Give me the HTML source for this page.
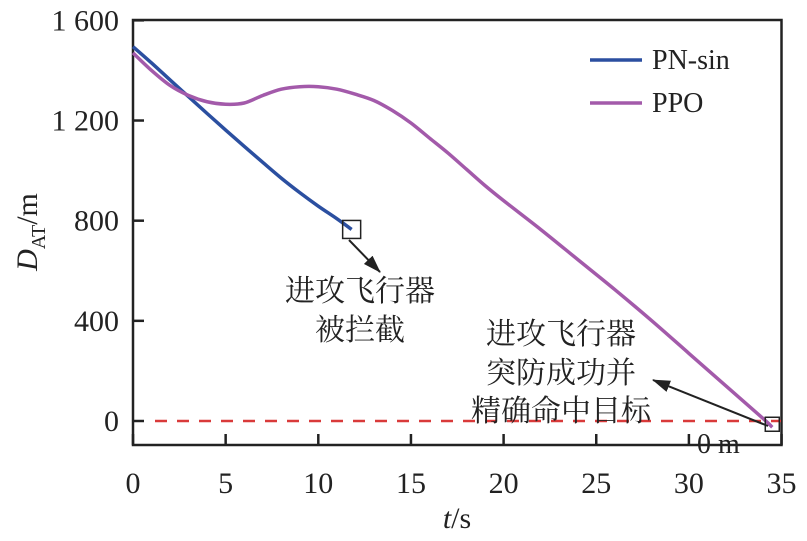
<!DOCTYPE html>
<html><head><meta charset="utf-8"><style>
body{margin:0;background:#fff}
svg text{font-family:"Liberation Serif","Noto Serif CJK SC",serif;fill:#222}
</style></head><body>
<svg width="807" height="536" id="c">
<rect x="133" y="20" width="648.5" height="425" fill="none" stroke="#222" stroke-width="2.5"/>
<g id="ticks"></g>
<line x1="155" y1="421" x2="781" y2="421" stroke="#d93a3a" stroke-width="2.5" stroke-dasharray="12,10"/>
<path id="pn" fill="none" stroke="#2b4fa0" stroke-width="3.5"/>
<path id="ppo" fill="none" stroke="#a35aaa" stroke-width="3.5"/>
<rect id="sq1" width="18" height="18" fill="none" stroke="#222" stroke-width="1.5"/>
<rect id="sq2" width="14" height="14" fill="none" stroke="#222" stroke-width="1.5"/>
<defs><marker id="ah" markerWidth="18" markerHeight="12" refX="17" refY="6" orient="auto" markerUnits="userSpaceOnUse" viewBox="0 0 18 12"><path d="M0,0L18,6L0,12z" fill="#222"/></marker></defs>
<line x1="349" y1="240" x2="380" y2="272" stroke="#222" stroke-width="2" marker-end="url(#ah)"/>
<line x1="768" y1="426" x2="653" y2="380" stroke="#222" stroke-width="2" marker-end="url(#ah)"/>
<text x="360" y="301" font-size="30" text-anchor="middle">进攻飞行器</text>
<text x="360" y="340" font-size="30" text-anchor="middle">被拦截</text>
<text x="561" y="344" font-size="30" text-anchor="middle">进攻飞行器</text>
<text x="561" y="383" font-size="30" text-anchor="middle">突防成功并</text>
<text x="561" y="421" font-size="30" text-anchor="middle">精确命中目标</text>
<text x="697" y="453" font-size="28">0 m</text>
<line x1="590" y1="60" x2="642" y2="60" stroke="#2b4fa0" stroke-width="3.5"/>
<text x="652" y="69" font-size="28">PN-sin</text>
<line x1="590" y1="103" x2="642" y2="103" stroke="#a35aaa" stroke-width="3.5"/>
<text x="652" y="112" font-size="28">PPO</text>
<text transform="translate(37,232) rotate(-90)" font-size="30" text-anchor="middle"><tspan font-style="italic">D</tspan><tspan font-size="20" dy="8">AT</tspan><tspan dy="-8">/m</tspan></text>
<text x="457" y="528" font-size="30" text-anchor="middle"><tspan font-style="italic">t</tspan>/s</text>
</svg>
<script>
const xTicks=[0,5,10,15,20,25,30,35];
const yTicks=[0,400,800,1200,1600];
const yTickLabels=["0","400","800","1 200","1 600"];
const pnT=[0,1,2,3,4,5,6,7,8,9,10,11,11.8];
const pnD=[1495,1430,1362,1295,1228,1162,1097,1033,970,912,858,808,765];
const ppoT=[0,1,2,3,4,5,6,7,8,9,10,11,12,13,14,15,16,17,18,19,20,22,24,26,28,30,32,34,34.5];
const ppoD=[1470,1400,1340,1300,1275,1265,1270,1300,1325,1335,1335,1325,1305,1280,1240,1190,1130,1070,1005,940,880,765,645,525,400,270,140,10,-25];
const X=t=>133+t*18.53, Y=d=>421-d*0.2504;
const ns="http://www.w3.org/2000/svg";
const g=document.getElementById('ticks');
function mk(tag,a){const e=document.createElementNS(ns,tag);for(const k in a)e.setAttribute(k,a[k]);g.appendChild(e);return e;}
xTicks.forEach(t=>{
 const l=mk('line',{x1:X(t),x2:X(t),y1:445,y2:434,stroke:'#222','stroke-width':2.5});
 
 
 const s=mk('text',{x:X(t),y:493,'font-size':30,'text-anchor':'middle'});s.textContent=t;
 
 
});
yTicks.forEach((v,i)=>{
 const l=mk('line',{x1:133,x2:144,y1:Y(v),y2:Y(v),stroke:'#222','stroke-width':2.5});
 
 
 const s=mk('text',{x:119,y:Y(v)+10,'font-size':30,'text-anchor':'end'});s.textContent=yTickLabels[i];
 
 
});
function path(T,D){
 const p=T.map((t,i)=>[X(t),Y(D[i])]);let d='M'+p[0];
 for(let i=0;i<p.length-1;i++){const p0=p[i-1]||p[i],p1=p[i],p2=p[i+1],p3=p[i+2]||p2;
  d+=' C'+(p1[0]+(p2[0]-p0[0])/6)+','+(p1[1]+(p2[1]-p0[1])/6)+' '+(p2[0]-(p3[0]-p1[0])/6)+','+(p2[1]-(p3[1]-p1[1])/6)+' '+p2;}
 return d;}
document.getElementById('pn').setAttribute('d',path(pnT,pnD));
document.getElementById('ppo').setAttribute('d',path(ppoT,ppoD));
const n=pnT.length-1,m=ppoT.length-1;
const s1=document.getElementById('sq1');s1.setAttribute('x',X(pnT[n])-9);s1.setAttribute('y',Y(pnD[n])-9);
const s2=document.getElementById('sq2');s2.setAttribute('x',X(ppoT[m])-7);s2.setAttribute('y',Y(ppoD[m])-10);
</script>
</body></html>
